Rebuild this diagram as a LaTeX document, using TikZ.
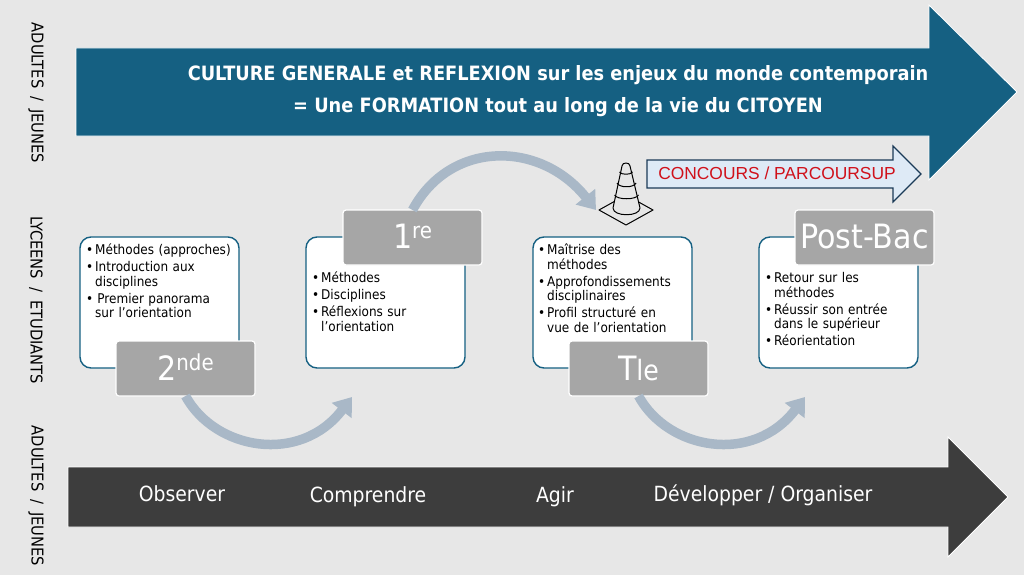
\documentclass[tikz,border=0pt]{standalone}
\usepackage{fontspec}
\setmainfont{DejaVu Sans Condensed}
\newfontfamily\arialfont{Liberation Sans}
\usetikzlibrary{arrows.meta}
\definecolor{bgcolor}{HTML}{E7E7E7}
\definecolor{teal}{HTML}{156082}
\definecolor{darkbar}{HTML}{3D3D3D}
\definecolor{graylabel}{HTML}{A6A6A6}
\definecolor{curvecolor}{HTML}{A9B8C7}
\definecolor{lightblue}{HTML}{DEEAF6}
\definecolor{navyline}{HTML}{1B3A57}
\definecolor{redtext}{HTML}{D0111B}
\newcommand{\bodysize}{\fontsize{13.4}{14.5}\selectfont}
\tikzset{sidetext/.style={rotate=-90,inner sep=0pt,font=\fontsize{16.3}{18}\selectfont}}
\tikzset{infobox/.style={draw=teal,line width=1.4pt,fill=white,rounded corners=11pt,minimum width=159pt,minimum height=131pt,inner sep=0pt,outer sep=0pt,anchor=north west}}
\tikzset{levelbox/.style={draw=white,line width=1.2pt,fill=graylabel,rounded corners=3pt,minimum width=139pt,minimum height=55pt,inner sep=0pt,outer sep=0pt,text=white,anchor=north west,font=\fontsize{33.5}{36}\selectfont}}
\tikzset{curve/.style={draw=curvecolor,line width=9.5pt,-{Triangle[length=17pt,width=24pt]}}}
\tikzset{infotext/.style={anchor=north west,inner sep=0pt,text width=152pt,align=left,font=\bodysize}}
\tikzset{bartext/.style={inner sep=0pt,text=white,font=\fontsize{20.9}{23}\selectfont}}
\tikzset{conestroke/.style={black,line width=1pt,line join=round}}
\newcommand{\puce}[1]{\par\setlength{\parskip}{2.5pt}\hyphenpenalty=10000\hangindent=9pt\hangafter=1\noindent\makebox[9pt][l]{\textbullet}#1\par}
\newcommand{\sidesep}{\hspace{8pt}/\hspace{8pt}}

\begin{document}
\begin{tikzpicture}[x=1pt,y=-1pt]
	\fill [bgcolor] (0,0) rectangle (1024,575);
	\useasboundingbox (0,0) rectangle (1024,575);

	% grandes fleches
	\draw [fill=teal,draw=white,line width=0.9pt] (76,48) -- (929,48) -- (929,5) -- (1017,92) -- (929,180) -- (929,136) -- (76,136) -- cycle;
	\draw [fill=darkbar,draw=white,line width=0.9pt] (68,467) -- (948,467) -- (948,437) -- (1008,497) -- (948,557) -- (948,527) -- (68,527) -- cycle;
	\node [inner sep=0pt,text=white,align=center,font=\fontsize{19.75}{32}\selectfont\bfseries] (title) at (558,91)
		{CULTURE GENERALE et REFLEXION sur les enjeux du monde contemporain\\
		= Une FORMATION tout au long de la vie du CITOYEN};

	% textes lateraux
	\node [sidetext] (sideA) at (36,93) {ADULTES\sidesep JEUNES};
	\node [sidetext] (sideB) at (36,300) {LYCEENS\sidesep ETUDIANTS};
	\node [sidetext] (sideC) at (36,496) {ADULTES\sidesep JEUNES};

	% petite fleche rouge
	\draw [navyline,fill=lightblue,line width=1.2pt,line join=miter]
		(647,160) -- (893,160) -- (893,146) -- (921,174) -- (893,202) -- (893,188) -- (647,188) -- cycle;
	\node [inner sep=0pt,text=redtext,font=\arialfont\fontsize{17.4}{19}\selectfont] (concours) at (777,173.5) {CONCOURS / PARCOURSUP};

	% cadres
	\node [infobox] (boxA) at (80,237) {};
	\node [infobox] (boxB) at (306,237) {};
	\node [infobox] (boxC) at (533,237) {};
	\node [infobox] (boxD) at (759,237) {};

	\node [infotext] (textA) at (86,237.5) {\puce{Méthodes (approches)}\puce{Introduction aux\newline disciplines}\puce{\,Premier panorama\newline sur l’orientation}};
	\node [infotext] (textB) at (312,265.5) {\puce{Méthodes}\puce{Disciplines}\puce{Réflexions sur\newline l’orientation}};
	\node [infotext] (textC) at (538,237.5) {\puce{Maîtrise des\newline méthodes}\puce{Approfondissements\newline disciplinaires}\puce{Profil structuré en\newline vue de l’orientation}};
	\node [infotext] (textD) at (765,265.5) {\puce{Retour sur les\newline méthodes}\puce{Réussir son entrée\newline dans le supérieur}\puce{Réorientation}};

	% etiquettes
	\node [levelbox] (seconde) at (116,341) {\raisebox{2pt}{2\raisebox{10pt}{\fontsize{22}{24}\selectfont nde}}};
	\node [levelbox] (premiere) at (343,210) {\raisebox{2pt}{1\raisebox{10pt}{\fontsize{22}{24}\selectfont re}}};
	\node [levelbox] (terminale) at (569,341) {\raisebox{1pt}{T{\fontsize{28}{30}\selectfont le}}};
	\node [levelbox] (postbac) at (795,210) {\raisebox{2pt}{Post-Bac}};

	% fleches courbes
	\coordinate (endA) at (352,397);
	\coordinate (endB) at (596,210);
	\coordinate (endC) at (805,397);
	\draw [curve] (seconde.south) .. controls (215,450) and (300,465) .. (endA);
	\draw [curve] (premiere.north) .. controls (450,140) and (540,140) .. (endB);
	\draw [curve] (terminale.south) .. controls (668,450) and (753,465) .. (endC);

	% cone
	\draw [conestroke,fill=bgcolor] (599,210) -- (626,195) -- (653,210) -- (626,225) -- cycle;
	\draw [conestroke,fill=bgcolor] (613,208) -- (622,166) .. controls (622,162) and (630,162) .. (630,166)
		-- (640,208) .. controls (640,217) and (613,217) .. (613,208) -- cycle;
	\draw [conestroke] (619.5,172) .. controls (621,175) and (631,175) .. (632.5,172);
	\draw [conestroke] (617,183) .. controls (619,188) and (634,188) .. (636,183);
	\draw [conestroke] (614.5,195) .. controls (617,200) and (636,200) .. (638.5,195);

	% barre du bas
	\node [bartext] (observer) at (182,494) {Observer};
	\node [bartext] (comprendre) at (368,497) {Comprendre};
	\node [bartext] (agir) at (555,497) {Agir};
	\node [bartext] (developper) at (763,495) {Développer / Organiser};
\end{tikzpicture}
\end{document}
